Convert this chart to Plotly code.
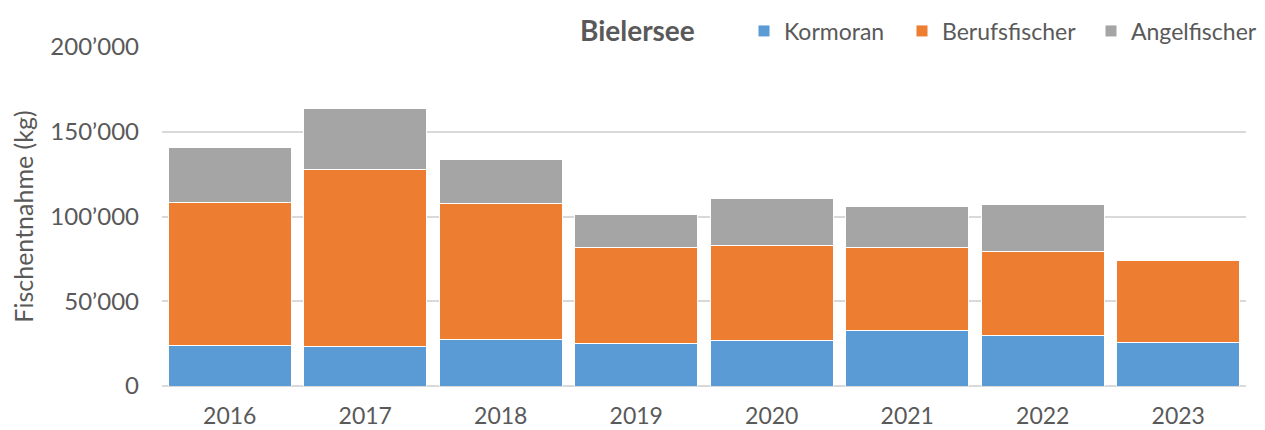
import plotly.graph_objects as go

years = ["2016", "2017", "2018", "2019", "2020", "2021", "2022", "2023"]
kormoran = [23900, 23300, 27450, 25100, 27050, 32800, 29600, 25700]
berufsfischer = [84400, 104700, 80250, 56800, 55800, 48850, 49700, 48100]
angelfischer = [32700, 35550, 26000, 19100, 27650, 24250, 27600, None]

tick_vals = [0, 50000, 100000, 150000, 200000]
tick_text = ["0", "50’000", "100’000", "150’000", "200’000"]

FONT = "Lato"
TXT = "#595959"
OFF = 8  # default page body margin
W, H = 1265 - OFF, 430 - OFF
L, R, T, B = 162 - OFF, 19, 47 - OFF, 44
pw, ph = W - L - R, H - T - B


def px_x(x):
    return (x - OFF - L) / pw


def px_y(y):
    return (H - B - (y - OFF)) / ph


series = [("Kormoran", kormoran, "#5b9bd5", "legend", 758),
          ("Berufsfischer", berufsfischer, "#ed7d31", "legend2", 916),
          ("Angelfischer", angelfischer, "#a5a5a5", "legend3", 1105)]

fig = go.Figure()
legends = {}
for name, vals, col, lg, lx in series:
    fig.add_trace(go.Bar(x=years, y=vals, name=name, legend=lg,
                         marker=dict(color=col, line=dict(color="white", width=1))))
    legends[lg] = dict(orientation="h", x=px_x(lx - 14), xanchor="left",
                       y=px_y(31), yanchor="middle",
                       font=dict(size=23, color=TXT, family=FONT),
                       itemwidth=30, bgcolor="rgba(0,0,0,0)", borderwidth=0)

fig.update_layout(
    barmode="stack",
    bargap=0.09,
    width=W, height=H,
    margin=dict(l=L, r=R, t=T, b=B, autoexpand=False),
    paper_bgcolor="white", plot_bgcolor="white",
    font=dict(family=FONT, color=TXT, size=24),
    showlegend=True,
    annotations=[dict(text="<b>Bielersee</b>", x=px_x(637), y=px_y(30), xref="paper", yref="paper",
                      xanchor="center", yanchor="middle", showarrow=False,
                      font=dict(size=28, color=TXT, family=FONT))],
    **legends,
)
fig.update_yaxes(range=[0, 200000], tickvals=tick_vals, ticktext=tick_text,
                 showgrid=True, gridcolor="#d9d9d9", gridwidth=1.5,
                 zeroline=True, zerolinecolor="#d9d9d9", zerolinewidth=1.5,
                 showline=False, ticks="", ticklabelstandoff=22,
                 tickfont=dict(size=24, color=TXT),
                 title=dict(text="Fischentnahme (kg)", font=dict(size=25, color=TXT), standoff=12))
fig.update_xaxes(showline=False, ticks="", tickfont=dict(size=23, color=TXT),
                 ticklabelstandoff=14)

fig.write_html("out.html")
